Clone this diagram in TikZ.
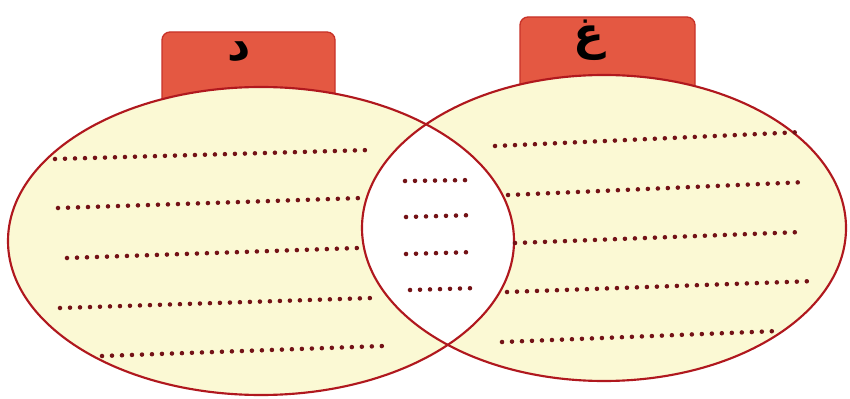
\documentclass[tikz,border=0pt]{standalone}
\usepackage{fontspec}
\TeXXeTstate=1
\newfontfamily\arabicfont[Script=Arabic]{DejaVu Sans}
\usetikzlibrary{shapes.geometric}
\definecolor{tagred}{RGB}{228,88,66}
\definecolor{tagedge}{RGB}{200,50,40}
\definecolor{vennfill}{RGB}{251,249,212}
\definecolor{vennline}{RGB}{176,24,30}
\definecolor{dotcol}{RGB}{115,18,22}
\begin{document}
\begin{tikzpicture}[x=0.75pt,y=-0.75pt,
  tagbox/.style={fill=tagred,draw=tagedge,line width=1pt,rounded corners=6pt},
  tagtext/.style={font=\arabicfont\bfseries\fontsize{34}{34}\selectfont,text=black,inner sep=0pt},
  dotline/.style={draw=dotcol,line width=3.4pt,line cap=round,dash pattern=on 0pt off 7.5pt}]
\useasboundingbox[fill=white] (0,0) rectangle (850,399);
% tags
\path[tagbox] (162,32) rectangle (335,110);
\path[tagbox] (520,17) rectangle (695,100);
\node[tagtext] (tagD) at (239,52) {\beginR د\endR};
\node[tagtext] (tagG) at (589,40) {\beginR غ\endR};
% ellipses
\fill[vennfill] (261,241) ellipse [x radius=253, y radius=154];
\fill[vennfill] (604,228) ellipse [x radius=242, y radius=153];
\begin{scope}
  \clip (261,241) ellipse [x radius=253, y radius=154];
  \fill[white] (604,228) ellipse [x radius=242, y radius=153];
\end{scope}
\draw[vennline,line width=1.6pt] (261,241) ellipse [x radius=253, y radius=154];
\draw[vennline,line width=1.6pt] (604,228) ellipse [x radius=242, y radius=153];
% left dotted lines
\path[dotline] (55,159) -- (370,150);
\path[dotline] (58,208) -- (362,198);
\path[dotline] (67,258) -- (358,248);
\path[dotline] (60,308) -- (372,298);
\path[dotline] (102,356) -- (383,346);
% middle dotted lines
\path[dotline] (405,181) -- (473,180);
\path[dotline] (406,217) -- (475,215);
\path[dotline] (406,254) -- (475,252);
\path[dotline] (410,290) -- (478,288);
% right dotted lines
\path[dotline] (495,146) -- (803,132);
\path[dotline] (508,195) -- (807,182);
\path[dotline] (515,243) -- (802,232);
\path[dotline] (507,292) -- (815,281);
\path[dotline] (502,342) -- (778,331);
\end{tikzpicture}
\end{document}
